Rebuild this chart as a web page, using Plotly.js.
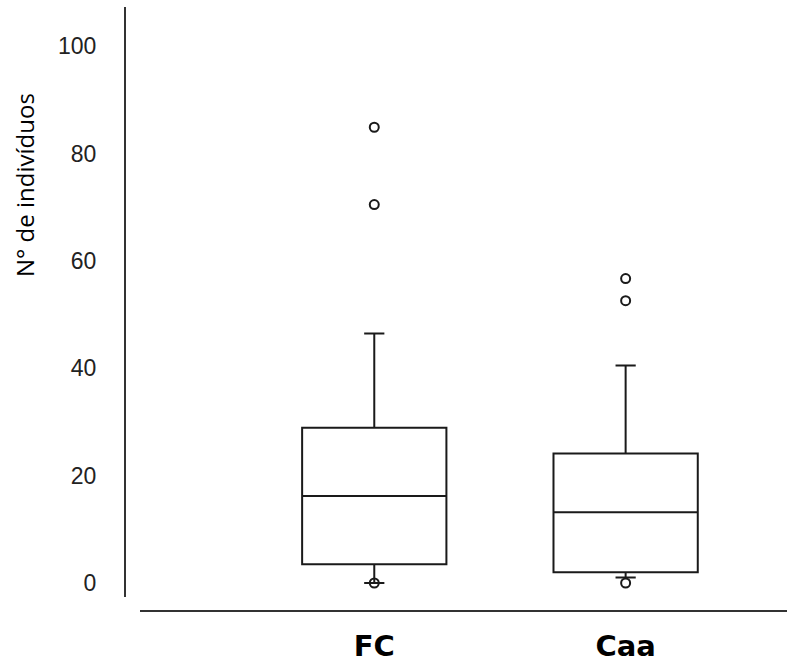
<!DOCTYPE html>
<html>
<head>
<meta charset="utf-8">
<script src="https://cdn.plot.ly/plotly-3.0.1.min.js"></script>
<style>html,body{margin:0;padding:0;background:#fff;}#chart{width:787px;height:662px;}</style>
</head>
<body>
<div id="chart"></div>
<script>
const categories = ['FC', 'Caa'];
const q1 = [3.5, 2.0];
const median = [16.2, 13.2];
const q3 = [28.9, 24.1];
const lowerFence = [0, 1.0];
const upperFence = [46.5, 40.5];
const outlierCats = ['FC', 'FC', 'FC', 'Caa', 'Caa', 'Caa'];
const outlierVals = [84.9, 70.5, 0, 56.7, 52.6, 0];
const yTickVals = [0, 20, 40, 60, 80, 100];
const yTitle = 'N° de indivíduos';

const W = 787, H = 662;
const plotL = 125, plotR = 787, plotT = 7, plotB = 611;
const pw = plotR - plotL, ph = plotB - plotT;

const traces = [
  {
    type: 'box',
    x: categories,
    q1: q1, median: median, q3: q3,
    lowerfence: lowerFence, upperfence: upperFence,
    boxpoints: false,
    width: 0.574,
    whiskerwidth: 0.14,
    fillcolor: '#ffffff',
    line: {color: '#1a1a1a', width: 2},
    hoverinfo: 'skip',
    showlegend: false
  },
  {
    type: 'scatter',
    mode: 'markers',
    x: outlierCats,
    y: outlierVals,
    marker: {symbol: 'circle-open', size: 9, color: '#1a1a1a', line: {width: 2, color: '#1a1a1a'}},
    cliponaxis: false,
    hoverinfo: 'skip',
    showlegend: false
  }
];

const layout = {
  width: W, height: H,
  margin: {l: plotL, r: W - plotR, t: plotT, b: H - plotB, pad: 0},
  paper_bgcolor: '#ffffff',
  plot_bgcolor: '#ffffff',
  showlegend: false,
  xaxis: {
    type: 'category',
    domain: [(140 - plotL) / pw, 1],
    anchor: 'free', position: 0,
    range: [-0.932, 1.642],
    showline: true, linecolor: '#333333', linewidth: 2,
    showgrid: false, zeroline: false,
    ticks: 'outside', ticklen: 9, tickcolor: 'rgba(0,0,0,0)',
    tickfont: {family: 'DejaVu Sans', size: 29, color: '#000000', weight: 'bold'},
    fixedrange: true
  },
  yaxis: {
    domain: [(plotB - 597) / ph, 1],
    anchor: 'free', position: 0,
    range: [-2.61, 107.3],
    tickvals: yTickVals,
    showline: true, linecolor: '#333333', linewidth: 2,
    showgrid: false, zeroline: false,
    ticks: 'outside', ticklen: 23, tickcolor: 'rgba(0,0,0,0)',
    tickfont: {family: 'Liberation Sans, Arial, sans-serif', size: 23, color: '#222222'},
    fixedrange: true
  },
  annotations: [{
    text: yTitle,
    xref: 'paper', yref: 'paper',
    x: (25 - plotL) / pw, y: (plotB - 185) / ph,
    xanchor: 'center', yanchor: 'middle',
    textangle: -90,
    showarrow: false,
    font: {family: 'Open Sans, sans-serif', size: 24, color: '#000000'}
  }]
};

Plotly.newPlot('chart', traces, layout, {displayModeBar: false, staticPlot: true});
</script>
</body>
</html>
